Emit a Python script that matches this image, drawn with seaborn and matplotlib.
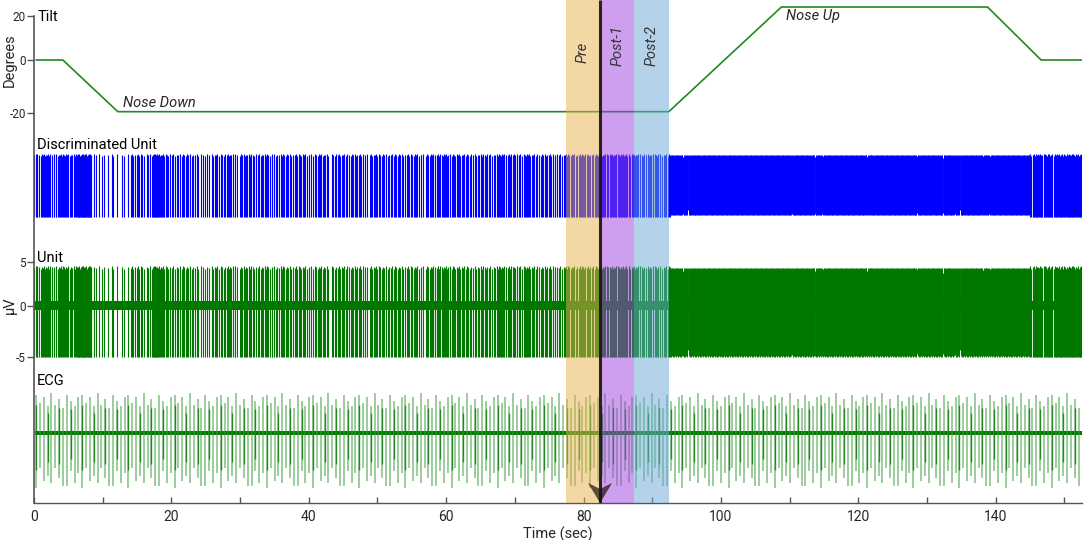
import numpy as np
import pandas as pd
import matplotlib
matplotlib.use("Agg")
import matplotlib.pyplot as plt
import seaborn as sns

# ---------------- data ----------------
# Tilt table angle, piecewise (sec, degrees)
tilt_t = [0.3, 4.2, 12.2, 92.4, 108.8, 138.8, 146.6, 152.5]
tilt_deg = [0.0, 0.0, -19.5, -19.5, 20.0, 20.0, 0.0, 0.0]

# Unit firing: bins (sec) and approximate rate (spikes/s) in each bin
unit_edges = [0, 6.3, 8.4, 14, 17.2, 18.5, 24, 26, 38.5, 58, 62, 67.5, 72,
              77.4, 82.4, 87.4, 92.6, 145, 152.6]
unit_rates = [6.0, 11.0, 2.2, 4.5, 9.0, 4.5, 3.2, 4.8, 4.8, 5.8, 4.8, 6.2, 4.8,
              5.5, 7.0, 5.5, 45.0, 8.0]
# short silent pauses (white gaps) seen in the trace
unit_pauses = [43.1, 47.2, 52.3, 62.0, 94.5, 95.2, 110.3, 113.7, 114.8,
               121.3, 128.5, 132.3, 134.0, 134.8, 138.2, 139.2]
# relative inter-spike interval pattern (irregular firing)
isi_pattern = [0.4, 1.8, 0.6, 0.3, 2.2, 0.9, 0.5, 1.5, 0.7, 1.1, 0.35, 1.3, 0.8]
# small peak-to-peak wobble pattern of spikes (fraction)
amp_wobble = [0.0, 0.6, -0.4, 0.9, 0.2, -0.7, 0.4, -0.2, 0.8, -0.5, 0.1]

# Unit waveform amplitudes (µV)
unit_up, unit_down = 4.0, -5.4
unit_dense_up, unit_dense_down = 3.6, -5.1
unit_noise = 0.5

# ECG: beat period (s) and per-beat amplitude pattern (relative)
ecg_start, ecg_period = 0.3, 0.56
ecg_up = [1.0, 0.8, 0.95, 0.7, 1.05, 0.75, 0.9, 0.65, 1.0, 0.85, 0.7, 0.95]
ecg_down = [1.05, 0.75, 1.0, 0.8, 1.1, 0.7, 0.95, 0.85, 1.0, 0.7, 0.9, 1.05]
ecg_noise = 0.06

# Analysis windows
win_names = ["Pre", "Post-1", "Post-2"]
win_start = [77.4, 82.4, 87.4]
win_end = [82.4, 87.4, 92.4]
win_colors = ["#E8B04A", "#A040E0", "#6AA8D8"]
stim_t = 82.4

x_max = 152.55

# ---------------- helpers ----------------
def spike_times(edges, rates, pauses, pause_w=0.12):
    out, k = [], 0
    for a, b, r in zip(edges[:-1], edges[1:], rates):
        n = int(round(r * (b - a)))
        if n == 0:
            continue
        iv = np.array([isi_pattern[(k + i) % len(isi_pattern)] for i in range(n)])
        k += n
        iv = iv / iv.sum() * (b - a)
        out.append(a + np.cumsum(iv) - iv / 2)
    t = np.concatenate(out)
    for p in pauses:
        t = t[np.abs(t - p) > pause_w / 2]
    return t

# ---------------- figure ----------------
sns.set_theme(style="ticks")
plt.rcParams["font.family"] = ["Roboto", "DejaVu Sans"]

W, H = 1084, 540
fig = plt.figure(figsize=(W / 100, H / 100), dpi=100)
ax = fig.add_axes([34 / W, 37 / H, 1048 / W, 503 / H])
ax.set_xlim(0, x_max)
ax.set_ylim(0, 503)

# vertical layout (pixel units above the x axis)
tilt_base, tilt_scale = 443, 2.65
disc_bot, disc_top = 286, 348
unit_base, unit_scale = 197.3, 9.5
ecg_base, ecg_scale = 70, 40

green = "#007800"

# --- Tilt ---
tilt_df = pd.DataFrame({"t": tilt_t, "y": tilt_base + tilt_scale * np.array(tilt_deg)})
sns.lineplot(data=tilt_df, x="t", y="y", ax=ax, color="#1f8a1f", lw=1.2, sort=False)

# --- Discriminated unit & Unit ---
st = spike_times(unit_edges, unit_rates, unit_pauses)
wob = np.array([amp_wobble[i % len(amp_wobble)] for i in range(len(st))])
wob2 = np.array([amp_wobble[(i * 3 + 5) % len(amp_wobble)] for i in range(len(st))])
dense = (st > unit_edges[-3]) & (st < unit_edges[-2])

d_top = np.where(dense, disc_top - 2 + 2.5 * wob, disc_top + 1.5 * wob)
d_bot = np.where(dense, disc_bot + 4 + 3.5 * wob2, disc_bot)
ax.vlines(st[~dense], d_bot[~dense], d_top[~dense], color="#0000ff", lw=0.8)
ax.vlines(st[dense], d_bot[dense], d_top[dense], color="#0000ff", lw=0.7)

ax.fill_between([0.2, x_max], unit_base - unit_noise * unit_scale,
                unit_base + unit_noise * unit_scale, color=green, lw=0)
u_top = unit_base + unit_scale * np.where(dense, unit_dense_up + 0.45 * wob, unit_up + 0.25 * wob)
u_bot = unit_base + unit_scale * np.where(dense, unit_dense_down + 0.45 * wob2, unit_down)
ax.vlines(st[~dense], u_bot[~dense], u_top[~dense], color=green, lw=0.8)
ax.vlines(st[dense], u_bot[dense], u_top[dense], color=green, lw=0.7)

# --- ECG ---
beats = np.arange(ecg_start, x_max, ecg_period)
up = np.array([ecg_up[i % len(ecg_up)] for i in range(len(beats))])
dn = np.array([ecg_down[(i + 4) % len(ecg_down)] for i in range(len(beats))])
ax.fill_between([0.2, x_max], ecg_base - ecg_noise * ecg_scale,
                ecg_base + ecg_noise * ecg_scale, color=green, lw=0)
ax.vlines(beats, ecg_base - ecg_scale * 1.25 * dn, ecg_base + ecg_scale * 0.95 * up,
          color="#3c9e3c", alpha=0.55, lw=1.3)
ax.vlines(beats[::3], ecg_base - ecg_scale * 0.85 * dn[::3], ecg_base + ecg_scale * 0.7 * up[::3],
          color="#1a801a", alpha=0.9, lw=1.0)

# --- analysis windows ---
for name, a, b, c in zip(win_names, win_start, win_end, win_colors):
    ax.axvspan(a, b, ymin=0, ymax=1, color=c, alpha=0.5, lw=0, zorder=3)
win_label_y = [451, 458, 458]
for name, a, b, yy in zip(win_names, win_start, win_end, win_label_y):
    ax.text((a + b) / 2, yy, name, rotation=90, style="italic", ha="center",
            va="center", fontsize=10.5, color="#333333", zorder=5)

# stimulus marker line + arrow head
ax.plot([stim_t, stim_t], [0, 503], color="#1a1208", lw=2.2, alpha=0.9, zorder=4,
        solid_capstyle="butt")
ax.fill([stim_t - 1.75, stim_t, stim_t + 1.75, stim_t],
        [20, 0, 20, 14], color="#1a1208", alpha=0.7, lw=0, zorder=4)

# --- texts ---
lab = dict(ha="left", va="center", fontsize=10.5, color="black")
ax.text(0.45, 486, "Tilt", **lab)
ax.text(0.45, 358, "Discriminated Unit", **lab)
ax.text(0.45, 245, "Unit", **lab)
ax.text(0.45, 122, "ECG", **lab)
ax.text(13.0, 400, "Nose Down", style="italic", ha="left", va="center", fontsize=10.5)
ax.text(109.5, 487, "Nose Up", style="italic", ha="left", va="center", fontsize=10.5)
fig.text(10 / W, 1 - 60 / H, "Degrees", rotation=90, ha="center", va="center", fontsize=10.5)
fig.text(10 / W, 1 - 305 / H, "µV", rotation=90, ha="center", va="center", fontsize=10.5)

# --- axes styling ---
sns.despine(ax=ax, top=True, right=True)
ax.spines["left"].set_bounds(0, 487.3)
ax.spines["left"].set_color("#555555")
ax.spines["bottom"].set_color("#555555")
ax.spines["left"].set_linewidth(1.2)
ax.spines["bottom"].set_linewidth(1.0)
ax.set_yticks([487.3, 443, 390, 241, 197.3, 146])
ax.set_yticklabels(["20", "0", "-20", "5", "0", "-5"], fontsize=8.5)
ax.tick_params(axis="y", direction="out", length=5, width=1, color="#555555", pad=1)
ax.set_xticks(np.arange(0, 141, 20))
ax.set_xticks(np.arange(10, 151, 20), minor=True)
ax.tick_params(axis="x", which="both", direction="in", length=4, width=1,
               color="#555555", labelsize=10, pad=5)
ax.set_xlabel("Time (sec)", fontsize=10.5, labelpad=2)
ax.set_ylabel("")
ax.grid(False)

fig.savefig("out.png", dpi=100)
